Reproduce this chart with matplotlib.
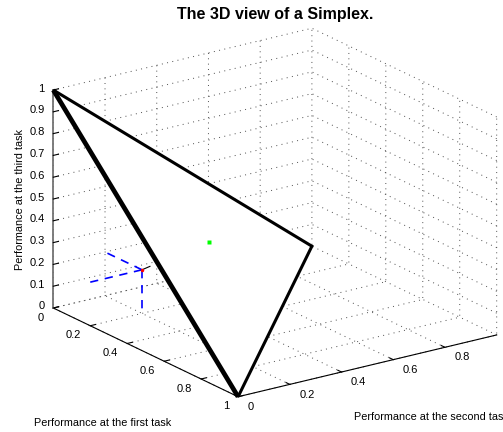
import numpy as np
import matplotlib
matplotlib.use('Agg')
import matplotlib.pyplot as plt
from mpl_toolkits.mplot3d import proj3d
from mpl_toolkits.mplot3d.art3d import Poly3DCollection

# simplex corners (first, second, third task)
corners = [(0, 0, 1), (1, 0, 0), (0, 1, 0)]
# sample point with its projections onto the walls
point = (0.2, 0.2, 0.2)
point_dir = (0.018, 0.018, 0.018)
green_pt = (0.297, 0.39, 0.313)

x_ticks = [0, 0.2, 0.4, 0.6, 0.8, 1]
x_labels = ['0', '0.2', '0.4', '0.6', '0.8', '1']
y_ticks = [0, 0.2, 0.4, 0.6, 0.8]
y_labels = ['0', '0.2', '0.4', '0.6', '0.8']
z_ticks = [0, 0.1, 0.2, 0.3, 0.4, 0.5, 0.6, 0.7, 0.8, 0.9, 1]
z_labels = ['0', '0.1', '0.2', '0.3', '0.4', '0.5', '0.6', '0.7', '0.8', '0.9', '1']

plt.rcParams['font.family'] = ['Liberation Sans', 'DejaVu Sans']

W, H = 503, 432
fig = plt.figure(figsize=(W / 100, H / 100), dpi=100)
ax = fig.add_axes([0, 0, 1, 1], projection='3d', proj_type='ortho')
ax.computed_zorder = False
ax.view_init(elev=19.8, azim=-35.2)
ax.set_box_aspect((320.6, 316.5, 231.7))
ax.set_xlim(0, 1)
ax.set_ylim(0, 1)
ax.set_zlim(0, 1)

# white face of the simplex hides the grid behind it
tri = Poly3DCollection([corners], facecolor='white', edgecolor='none', zorder=1)
ax.add_collection3d(tri)
c0, c1, c2_ = corners
ax.plot([c0[0], c2_[0], c1[0]], [c0[1], c2_[1], c1[1]], [c0[2], c2_[2], c1[2]],
        color='k', lw=2.2, solid_joinstyle='miter', solid_capstyle='butt', zorder=2)
ax.plot([c0[0], c1[0]], [c0[1], c1[1]], [c0[2], c1[2]], color='k', lw=3.4,
        solid_capstyle='butt', zorder=2)

px, py, pz = point
ax.plot([px, 0], [py, py], [pz, pz], 'b--', lw=1.2, dashes=(5, 4), zorder=2)
ax.plot([px, px], [py, 0], [pz, pz], 'b--', lw=1.2, dashes=(5, 4), zorder=2)
ax.plot([px, px], [py, py], [pz, 0], 'b--', lw=1.2, dashes=(5, 4), zorder=2)
ax.plot([px, px + point_dir[0]], [py, py + point_dir[1]], [pz, pz + point_dir[2]],
        color='k', lw=0.8, zorder=3)
ax.plot([px], [py], [pz], 'r.', ms=3, zorder=3)
ax.plot([green_pt[0]], [green_pt[1]], [green_pt[2]], 's', color='#00ff00', ms=2.2,
        mec='none', zorder=3)

# ticks + grid from matplotlib, labels placed MATLAB-style below
ax.set_xticks(x_ticks)
ax.set_yticks(y_ticks)
ax.set_zticks(z_ticks)
ax.zaxis.set_ticks_position('lower')

for axis in (ax.xaxis, ax.yaxis, ax.zaxis):
    axis.set_pane_color((1, 1, 1, 0))
    axis.pane.set_edgecolor('none')
    axis.line.set_color('k')
    axis.line.set_linewidth(0.8)
    axis.label.set_visible(False)
    axis.offsetText.set_visible(False)
    for tick in axis.get_major_ticks():
        tick.label1.set_visible(False)
        tick.label2.set_visible(False)
    axis._axinfo['grid'].update(color='0.3', linewidth=0.7, linestyle=(0, (1, 4.5)))
    axis._axinfo['tick'].update(inward_factor=0.0, outward_factor=0.25)
ax.zaxis.line.set_color('0.45')
ax.zaxis.line.set_linewidth(1.3)

# fit the axes so the box sits where it does in the reference
fig.canvas.draw()


def to_px(p):
    x2, y2, _ = proj3d.proj_transform(*p, ax.get_proj())
    return ax.transData.transform((x2, y2))


a = to_px((0, 0, 0))
b = to_px((1, 1, 1))
ta = np.array([53.3, H - 308.0])
tb = np.array([496.7, H - 117.0])
s = np.linalg.norm(tb - ta) / np.linalg.norm(b - a)
bb = ax.get_position()
c = np.array([(bb.x0 + bb.x1) / 2 * W, (bb.y0 + bb.y1) / 2 * H])
side = bb.width * W * s
cn = ta - s * (a - c)
ax.set_position([(cn[0] - side / 2) / W, (cn[1] - side / 2) / H, side / W, side / H])
fig.canvas.draw()

# tick labels: project a point just outside each tick
for t, lab in zip(x_ticks, x_labels):
    q = to_px((t, -0.035, -0.034))
    fig.text(q[0] / W, q[1] / H, lab, ha='right', va='center', fontsize=8)
for t, lab in zip(y_ticks, y_labels):
    q = to_px((1.051, t, -0.026))
    fig.text(q[0] / W, q[1] / H, lab, ha='left', va='center', fontsize=8)
for t, lab in zip(z_ticks, z_labels):
    q = to_px((-0.0266, -0.0139, t))
    fig.text(q[0] / W, q[1] / H, lab, ha='right', va='center', fontsize=8)

fig.text(275.5 / W, 1 - 14 / H, 'The 3D view of a Simplex.', ha='center', va='center',
         fontsize=11.5, fontweight='bold')
fig.text(102.5 / W, 1 - 423 / H, 'Performance at the first task', ha='center',
         va='center', fontsize=7.8)
fig.text(354 / W, 1 - 416.5 / H, 'Performance at the second task', ha='left',
         va='center', fontsize=7.8)
fig.text(20 / W, 1 - 199 / H, 'Performance at the third task', ha='center',
         va='center', fontsize=7.8, rotation=90)

fig.savefig('out.png', dpi=100)
